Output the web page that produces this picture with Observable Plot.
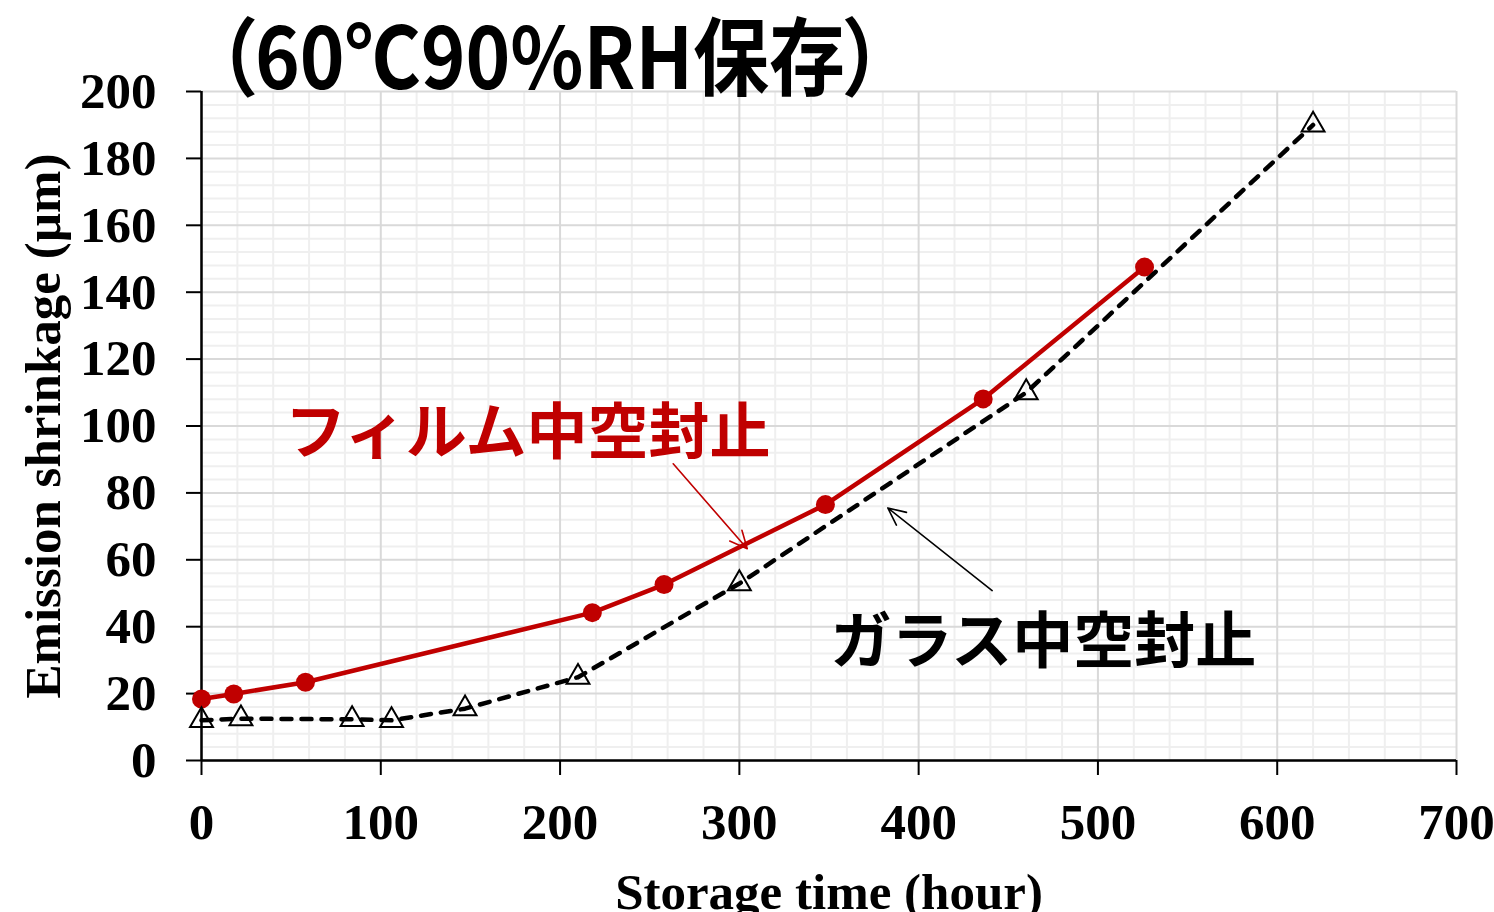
<!DOCTYPE html>
<html>
<head>
<meta charset="utf-8">
<script src="https://cdn.jsdelivr.net/npm/d3@7"></script>
<script src="https://cdn.jsdelivr.net/npm/@observablehq/plot@0.6"></script>
<style>
  html, body { margin: 0; padding: 0; background: #fff; }
  #wrap { position: relative; width: 1494px; height: 912px; overflow: hidden; }
  #title {
    position: absolute; left: 217px; top: 9px;
    font-family: "Liberation Sans Narrow", "Noto Sans CJK JP", sans-serif;
    font-weight: 700; font-size: 76px; line-height: 1;
    font-feature-settings: "palt";
    transform: scaleY(1.12); transform-origin: top left;
    color: #000; white-space: nowrap; z-index: 2;
  }
</style>
</head>
<body>
<div id="wrap">
  <div id="title">（60℃90%RH保存）</div>
  <div id="chart"></div>
</div>
<script>
// Data
const hoursFilm  = [0, 18, 58, 218, 258, 348, 436, 526];
const shrinkFilm = [18.4, 19.9, 23.4, 44.2, 52.6, 76.5, 108.1, 147.5];
const hoursGlass  = [0, 22, 84, 106, 147, 210, 300, 460, 620];
const shrinkGlass = [12.0, 12.5, 12.3, 12.0, 15.5, 24.9, 52.9, 110.0, 190.0];

const xTicks = [0, 100, 200, 300, 400, 500, 600, 700];
const yTicks = [0, 20, 40, 60, 80, 100, 120, 140, 160, 180, 200];

const labelFilm = "フィルム中空封止";
const labelGlass = "ガラス中空封止";
const labelPos = [
  {name: labelFilm,  x: 182.0, y: 97.5, color: "#c00000"},
  {name: labelGlass, x: 469.6, y: 35.0, color: "#000000"}
];
const arrows = [
  {x1: 263.1, y1: 88.7, x2: 304.4, y2: 63.3, color: "#c00000"},
  {x1: 441.0, y1: 50.8, x2: 382.8, y2: 75.5, color: "#000000"}
];

const film = hoursFilm.map((h, i) => ({x: h, y: shrinkFilm[i]}));
const glass = hoursGlass.map((h, i) => ({x: h, y: shrinkGlass[i]}));

const minorX = d3.range(0, 701, 20).filter(v => v % 100 !== 0);
const minorY = d3.range(0, 201, 4).filter(v => v % 20 !== 0);

const chart = Plot.plot({
  width: 1494,
  height: 912,
  marginLeft: 201,
  marginRight: 38,
  marginTop: 91,
  marginBottom: 152,
  x: {domain: [0, 700]},
  y: {domain: [0, 200]},
  style: {
    fontFamily: "'Liberation Serif', 'Times New Roman', serif",
    fontWeight: "bold",
    fontSize: "51px",
    background: "white",
    color: "black",
    overflow: "visible"
  },
  marks: [
    Plot.gridX(minorX, {stroke: "#efefef", strokeOpacity: 1, strokeWidth: 2}),
    Plot.gridY(minorY, {stroke: "#efefef", strokeOpacity: 1, strokeWidth: 2}),
    Plot.gridX(xTicks, {stroke: "#d9d9d9", strokeOpacity: 1, strokeWidth: 2}),
    Plot.gridY(yTicks, {stroke: "#d9d9d9", strokeOpacity: 1, strokeWidth: 2}),
    Plot.axisX({ticks: xTicks, tickSize: 15, tickPadding: 27, strokeWidth: 2,
      fontSize: 51, label: "Storage time (hour)", labelAnchor: "center", labelArrow: "none", labelOffset: 148}),
    Plot.axisY({ticks: yTicks, tickSize: 15, tickPadding: 30, strokeWidth: 2,
      fontSize: 51, label: "Emission shrinkage (µm)", labelAnchor: "center", labelArrow: "none", labelOffset: 178}),
    Plot.ruleX([0], {stroke: "black", strokeWidth: 2.5}),
    Plot.ruleY([0], {stroke: "black", strokeWidth: 2.5}),
    Plot.line(film, {x: "x", y: "y", stroke: "#c00000", strokeWidth: 4.5}),
    Plot.dot(film, {x: "x", y: "y", r: 9.5, fill: "#c00000", stroke: "none"}),
    Plot.line(glass, {x: "x", y: "y", stroke: "black", strokeWidth: 4.5,
      strokeDasharray: "10,10", strokeLinecap: "round"}),
    Plot.dot(glass, {x: "x", y: "y", symbol: "triangle", r: 8.5, fill: "none",
      stroke: "black", strokeWidth: 2}),
    Plot.arrow(arrows, {x1: "x1", y1: "y1", x2: "x2", y2: "y2", stroke: "color",
      strokeWidth: 1.6, headLength: 18, headAngle: 50}),
    Plot.text(labelPos, {x: "x", y: "y", text: "name", fill: "color",
      fontFamily: "'Noto Sans CJK JP', sans-serif", fontWeight: 700, fontSize: 61})
  ]
});
document.getElementById("chart").appendChild(chart);
</script>
</body>
</html>
